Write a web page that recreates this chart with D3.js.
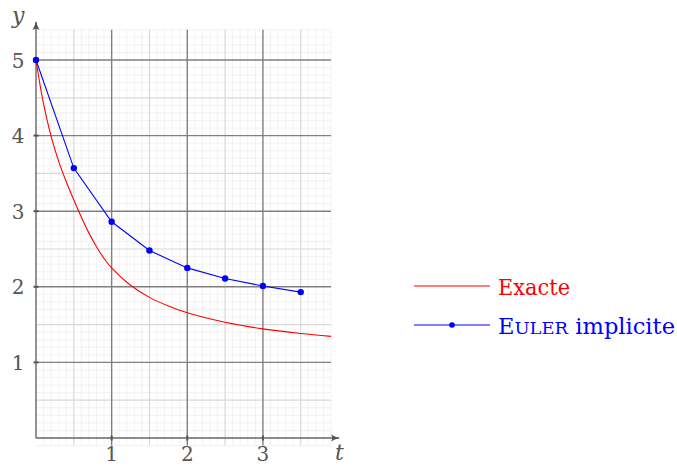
<!DOCTYPE html>
<html>
<head>
<meta charset="utf-8">
<script src="https://cdn.jsdelivr.net/npm/d3@7"></script>
<style>
  html, body { margin: 0; padding: 0; background: #fff; }
  svg { display: block; font-family: "DejaVu Serif", serif; }
</style>
</head>
<body>
<div id="chart"></div>
<script>
// exact solution
const exactT = [0, 0.05, 0.1, 0.2, 0.3, 0.4, 0.5, 0.6, 0.7, 0.8, 0.9, 1, 1.25, 1.5, 1.75, 2, 2.5, 3, 3.5, 3.9];
const exactY = [5, 4.69, 4.42, 3.99, 3.66, 3.39, 3.15, 2.92, 2.71, 2.53, 2.375, 2.25, 2.02, 1.86, 1.746, 1.656, 1.53, 1.443, 1.382, 1.344];

// implicit Euler, step 0.5
const eulerT = [0, 0.5, 1, 1.5, 2, 2.5, 3, 3.5];
const eulerY = [5, 3.57, 2.86, 2.48, 2.25, 2.11, 2.01, 1.93];

const xTicks = [1, 2, 3];
const yTicks = [1, 2, 3, 4, 5];

const W = 677, H = 466;
const x = d3.scaleLinear().domain([0, 3.9]).range([36, 331]);
const y = d3.scaleLinear().domain([0, 5]).range([438, 60]);

const svg = d3.select("#chart").append("svg").attr("width", W).attr("height", H);

// grid: 0.1 / 0.5 / 1
const grid = svg.append("g");
const minorY = d3.range(-1, 55).map(i => i / 10);
const minorX = d3.range(0, 40).map(i => i / 10);
const gx0 = x(0), gx1 = x(3.9), gy0 = y(-0.1), gy1 = y(5.4);

function vlines(vals, color, width) {
  grid.append("g").selectAll("line").data(vals).join("line")
    .attr("x1", d => x(d)).attr("x2", d => x(d))
    .attr("y1", gy0).attr("y2", gy1)
    .attr("stroke", color).attr("stroke-width", width);
}
function hlines(vals, color, width) {
  grid.append("g").selectAll("line").data(vals).join("line")
    .attr("y1", d => y(d)).attr("y2", d => y(d))
    .attr("x1", gx0).attr("x2", gx1)
    .attr("stroke", color).attr("stroke-width", width);
}
vlines(minorX.filter(d => Math.round(d * 10) % 5 !== 0), "#efefef", 0.8);
hlines(minorY.filter(d => Math.round(d * 10) % 5 !== 0), "#efefef", 0.8);
vlines([0.5, 1.5, 2.5, 3.5], "#d8d8d8", 1.2);
hlines([0.5, 1.5, 2.5, 3.5, 4.5], "#d8d8d8", 1.2);
vlines(xTicks, "#7f7f7f", 1.4);
hlines(yTicks, "#7f7f7f", 1.4);

// axes with arrows
const defs = svg.append("defs");
defs.append("marker").attr("id", "arrow").attr("viewBox", "0 0 10 10")
  .attr("refX", 9).attr("refY", 5).attr("markerWidth", 9).attr("markerHeight", 9)
  .attr("markerUnits", "userSpaceOnUse").attr("orient", "auto")
  .append("path").attr("d", "M0,1 Q5,4 10,5 Q5,6 0,9 Q3,5 0,1 Z").attr("fill", "#555");

const axisColor = "#666";
svg.append("line").attr("x1", x(0)).attr("x2", 339).attr("y1", y(0)).attr("y2", y(0))
  .attr("stroke", axisColor).attr("stroke-width", 1.4).attr("marker-end", "url(#arrow)");
svg.append("line").attr("x1", x(0)).attr("x2", x(0)).attr("y1", y(0)).attr("y2", 22)
  .attr("stroke", axisColor).attr("stroke-width", 1.4).attr("marker-end", "url(#arrow)");

svg.append("g").selectAll("line").data(xTicks).join("line")
  .attr("x1", d => x(d)).attr("x2", d => x(d)).attr("y1", y(0) - 2.5).attr("y2", y(0) + 2.5)
  .attr("stroke", "#555").attr("stroke-width", 2);
svg.append("g").selectAll("line").data(yTicks).join("line")
  .attr("y1", d => y(d)).attr("y2", d => y(d)).attr("x1", x(0) - 2.5).attr("x2", x(0) + 2.5)
  .attr("stroke", "#555").attr("stroke-width", 2);

const labelColor = "#555";
svg.append("g").selectAll("text").data(xTicks).join("text")
  .attr("x", d => x(d)).attr("y", y(0) + 23).attr("text-anchor", "middle")
  .attr("font-size", 20).attr("fill", labelColor).text(d => d);
svg.append("g").selectAll("text").data(yTicks).join("text")
  .attr("x", 18).attr("y", d => y(d) + 7.5).attr("text-anchor", "middle")
  .attr("font-size", 20).attr("fill", labelColor).text(d => d);

svg.append("text").attr("x", 335).attr("y", 460).attr("font-size", 22)
  .attr("font-style", "italic").attr("fill", labelColor).text("t");
svg.append("text").attr("x", 12).attr("y", 23).attr("font-size", 22)
  .attr("font-style", "italic").attr("fill", labelColor).text("y");

// curves
const exact = exactT.map((t, i) => [t, exactY[i]]);
const euler = eulerT.map((t, i) => [t, eulerY[i]]);

svg.append("path").datum(exact)
  .attr("d", d3.line().x(d => x(d[0])).y(d => y(d[1])).curve(d3.curveCatmullRom))
  .attr("fill", "none").attr("stroke", "#ff0000").attr("stroke-width", 1.1);

svg.append("path").datum(euler)
  .attr("d", d3.line().x(d => x(d[0])).y(d => y(d[1])))
  .attr("fill", "none").attr("stroke", "#0000ff").attr("stroke-width", 1.1);
svg.append("g").selectAll("circle").data(euler).join("circle")
  .attr("cx", d => x(d[0])).attr("cy", d => y(d[1])).attr("r", 3.2).attr("fill", "#0000ff");

// legend
const legend = svg.append("g").attr("transform", "translate(414,286)");
legend.append("line").attr("x1", 0).attr("x2", 76).attr("y1", 0).attr("y2", 0)
  .attr("stroke", "#ff0000").attr("stroke-width", 1.1);
legend.append("text").attr("x", 84).attr("y", 9).attr("font-size", 22).attr("fill", "#ff0000")
  .attr("textLength", 72).attr("lengthAdjust", "spacingAndGlyphs").text("Exacte");

legend.append("line").attr("x1", 0).attr("x2", 76).attr("y1", 39).attr("y2", 39)
  .attr("stroke", "#0000ff").attr("stroke-width", 1.1);
legend.append("circle").attr("cx", 38).attr("cy", 39).attr("r", 2.8).attr("fill", "#0000ff");
const eulerLabel = legend.append("text").attr("x", 84).attr("y", 48).attr("font-size", 22)
  .attr("fill", "#0000ff").attr("textLength", 177).attr("lengthAdjust", "spacingAndGlyphs");
eulerLabel.append("tspan").text("E");
eulerLabel.append("tspan").attr("font-size", 17.5).text("ULER");
eulerLabel.append("tspan").text(" implicite");
</script>
</body>
</html>
